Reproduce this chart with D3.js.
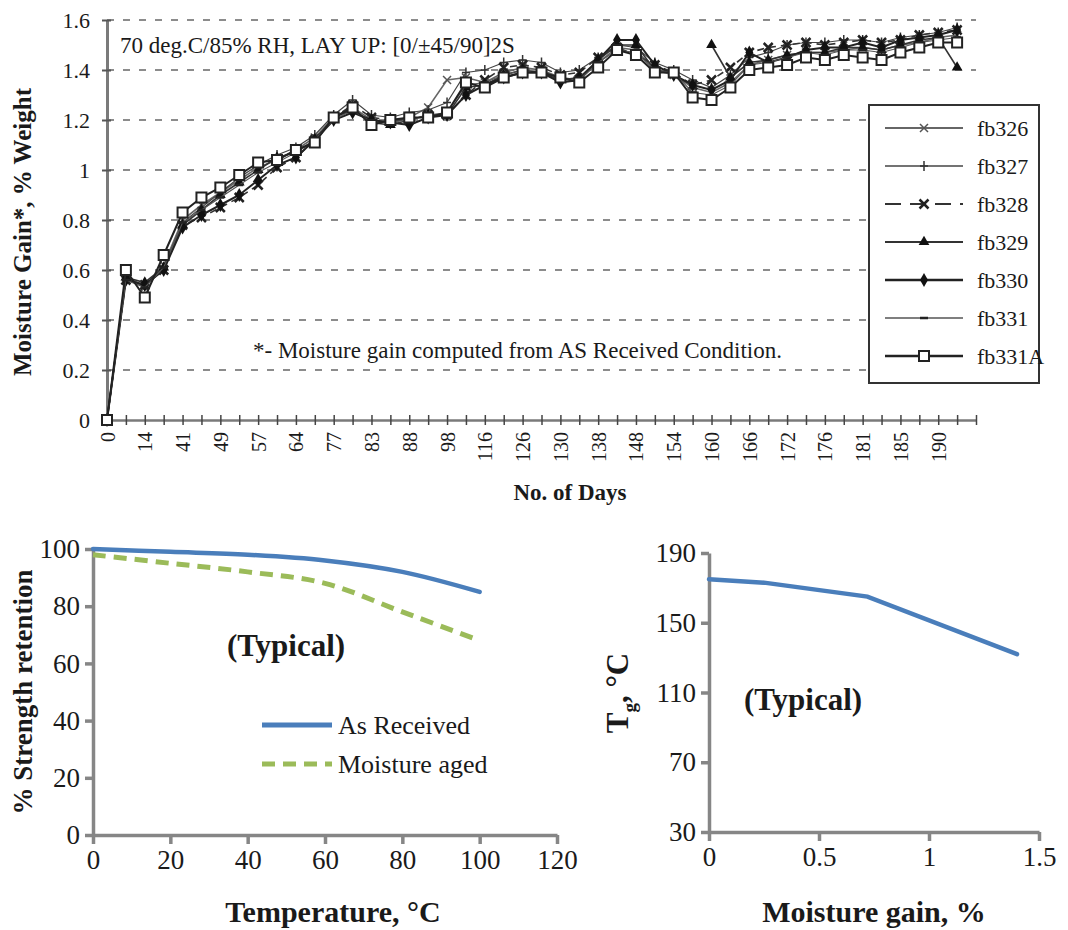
<!DOCTYPE html>
<html>
<head>
<meta charset="utf-8">
<script src="https://cdn.jsdelivr.net/npm/d3@7"></script>
<style>
  body { margin: 0; background: #fff; }
  text { font-family: "Liberation Serif", "Times New Roman", serif; fill: #1a1a1a; }
</style>
</head>
<body>
<svg id="fig" width="1068" height="930"></svg>
<script>
"use strict";

// ---- top chart: moisture gain vs days (every other tick is labelled)
const dayLabels = ["0","14","41","49","57","64","77","83","88","98","116","126","130","138","148","154","160","166","172","176","181","185","190"]

const fb326  = [0,0.57,0.53,0.62,0.80,0.86,0.91,0.96,1.01,1.04,1.08,1.13,1.21,1.25,1.20,1.19,1.21,1.25,1.36,1.37,1.35,1.39,1.41,1.40,1.37,1.36,1.43,1.49,1.48,1.40,1.38,1.33,1.31,1.35,1.42,1.44,1.46,1.47,1.47,1.48,1.49,1.48,1.50,1.51,1.53,1.54]
const fb327  = [0,0.57,0.54,0.61,0.79,0.85,0.91,0.97,1.02,1.06,1.09,1.14,1.22,1.28,1.22,1.21,1.23,1.24,1.27,1.39,1.40,1.43,1.44,1.43,1.39,1.40,1.45,1.50,1.49,1.43,1.40,1.36,1.33,1.38,1.45,1.47,1.50,1.51,1.51,1.52,1.52,1.51,1.53,1.54,1.55,1.57]
const fb328  = [0,0.56,0.54,0.60,0.78,0.81,0.85,0.89,0.94,1.01,1.05,1.12,1.21,1.26,1.21,1.20,1.20,1.22,1.22,1.30,1.36,1.41,1.42,1.41,1.38,1.39,1.45,1.49,1.46,1.42,1.39,1.34,1.36,1.41,1.47,1.49,1.50,1.51,1.50,1.51,1.52,1.51,1.52,1.54,1.55,1.56]
const fb329  = [0,0.57,0.55,0.61,0.78,0.84,0.90,0.95,1.00,1.05,1.07,1.12,1.21,1.24,1.19,1.18,1.20,1.22,1.22,1.33,1.34,1.38,1.40,1.39,1.36,1.37,1.44,1.50,1.50,1.40,1.39,null,1.50,1.37,1.43,1.44,1.46,1.47,1.47,1.49,1.49,1.48,1.50,1.52,1.53,1.41]
const fb330  = [0,0.56,0.54,0.60,0.77,0.82,0.86,0.90,0.96,1.02,1.05,1.12,1.20,1.23,1.20,1.19,1.18,1.21,1.22,1.30,1.34,1.37,1.39,1.39,1.35,1.36,1.44,1.52,1.52,1.42,1.38,1.34,1.32,1.36,1.47,1.43,1.45,1.48,1.49,1.49,1.51,1.49,1.52,1.53,1.54,1.56]
const fb331  = [0,0.56,0.53,0.61,0.79,0.84,0.89,0.94,0.99,1.03,1.07,1.12,1.20,1.24,1.19,1.19,1.20,1.22,1.23,1.34,1.35,1.38,1.40,1.40,1.36,1.36,1.43,1.48,1.47,1.40,1.39,1.31,1.30,1.34,1.42,1.43,1.45,1.47,1.46,1.48,1.48,1.47,1.49,1.51,1.52,1.53]
const fb331A = [0,0.60,0.49,0.66,0.83,0.89,0.93,0.98,1.03,1.04,1.08,1.11,1.21,1.25,1.18,1.20,1.21,1.21,1.23,1.35,1.33,1.37,1.39,1.39,1.37,1.35,1.41,1.48,1.46,1.39,1.39,1.29,1.28,1.33,1.40,1.41,1.42,1.45,1.44,1.46,1.45,1.44,1.47,1.49,1.51,1.51]

// ---- bottom left: strength retention vs temperature
const temps = [0, 20, 40, 60, 80, 100]
const asReceived = [100, 99, 98, 96, 92, 85]
const moistureAged = [98, 95, 92, 88, 78, 68]

// ---- bottom right: Tg vs moisture gain
const gainPct = [0, 0.25, 0.72, 1.4]
const tgValues = [175, 173, 165, 132]

const svg = d3.select("#fig")

function drawMarker(g, type, cx, cy) {
    if (type === "square") {
        g.append("rect").attr("x", cx - 5).attr("y", cy - 5).attr("width", 10).attr("height", 10)
            .attr("fill", "#fff").attr("stroke", "#222").attr("stroke-width", 2)
    } else if (type === "diamond") {
        g.append("path").attr("d", d3.symbol(d3.symbolDiamond, 55)()).attr("transform", `translate(${cx},${cy})`)
            .attr("fill", "#111")
    } else if (type === "triangle") {
        g.append("path").attr("d", d3.symbol(d3.symbolTriangle, 50)()).attr("transform", `translate(${cx},${cy})`)
            .attr("fill", "#111")
    } else if (type === "x" || type === "xbold") {
        var s = type === "x" ? 4 : 4.5
        g.append("path").attr("d", `M${cx - s},${cy - s}L${cx + s},${cy + s}M${cx - s},${cy + s}L${cx + s},${cy - s}`)
            .attr("stroke", type === "x" ? "#555" : "#222").attr("stroke-width", type === "x" ? 1.5 : 2.5)
    } else if (type === "plus") {
        g.append("path").attr("d", `M${cx - 4},${cy}L${cx + 4},${cy}M${cx},${cy - 5}L${cx},${cy + 5}`)
            .attr("stroke", "#333").attr("stroke-width", 1.5)
    } else if (type === "dash") {
        g.append("path").attr("d", `M${cx - 4},${cy}L${cx + 4},${cy}`)
            .attr("stroke", "#222").attr("stroke-width", 2.5)
    }
}

// ================= TOP CHART =================
const xTop = d3.scaleLinear().domain([0, 46]).range([107, 976])
const yTop = d3.scaleLinear().domain([0, 1.6]).range([420, 20])

const gTop = svg.append("g")

// dashed gridlines
gTop.selectAll(".grid")
    .data(d3.range(1, 9).map(k => k * 0.2))
    .enter().append("line")
    .attr("x1", xTop(0)).attr("x2", xTop(46))
    .attr("y1", d => yTop(d)).attr("y2", d => yTop(d))
    .attr("stroke", "#8c8c8c").attr("stroke-width", 2).attr("stroke-dasharray", "7,9")

// y axis
const yAxisTop = d3.axisLeft(yTop).tickValues(d3.range(0, 9).map(k => k * 0.2))
    .tickFormat(d => d3.format("~g")(+d.toFixed(1))).tickSizeInner(5).tickSizeOuter(0).tickPadding(12)
gTop.append("g").attr("transform", `translate(${xTop(0)},0)`).call(yAxisTop)
    .call(g => g.select(".domain").attr("stroke", "#7a7a7a").attr("stroke-width", 3))
    .call(g => g.selectAll(".tick line").attr("x2", 4).attr("x1", -5).attr("stroke", "#555").attr("stroke-width", 2))
    .call(g => g.selectAll("text").style("font-size", "22px").attr("font-family", null))

// x axis (categorical index ticks)
const xAxisTop = d3.axisBottom(xTop).tickValues(d3.range(0, 47))
    .tickFormat(i => (i % 2 === 0 && dayLabels[i / 2] !== undefined) ? dayLabels[i / 2] : "")
    .tickSizeInner(5).tickSizeOuter(0)
gTop.append("g").attr("transform", `translate(0,${yTop(0)})`).call(xAxisTop)
    .call(g => g.select(".domain").attr("stroke", "#7a7a7a").attr("stroke-width", 2.5))
    .call(g => g.selectAll(".tick line").attr("y1", -5).attr("y2", 5).attr("stroke", "#444").attr("stroke-width", 1.5))
    .call(g => g.selectAll("text").style("font-size", "20px").attr("font-family", null)
        .attr("transform", "rotate(-90)").attr("text-anchor", "end")
        .attr("x", -12).attr("y", 0).attr("dy", "0.35em"))

// series
const seriesTop = [
    {name: "fb326", values: fb326, marker: "x", dash: null, color: "#666", width: 1.6},
    {name: "fb327", values: fb327, marker: "plus", dash: null, color: "#444", width: 1.2},
    {name: "fb328", values: fb328, marker: "xbold", dash: "7,5", color: "#333", width: 1.6},
    {name: "fb329", values: fb329, marker: "triangle", dash: null, color: "#333", width: 1.6},
    {name: "fb330", values: fb330, marker: "diamond", dash: null, color: "#222", width: 2},
    {name: "fb331", values: fb331, marker: "dash", dash: null, color: "#555", width: 1.1},
    {name: "fb331A", values: fb331A, marker: "square", dash: null, color: "#222", width: 2}
]

const lineTop = d3.line().defined(d => d != null).x((d, i) => xTop(i)).y(d => yTop(d))

seriesTop.forEach(s => {
    var g = gTop.append("g")
    g.append("path").datum(s.values).attr("d", lineTop)
        .attr("fill", "none").attr("stroke", s.color).attr("stroke-width", s.width)
        .attr("stroke-dasharray", s.dash)
    s.values.forEach((v, i) => {
        if (v != null) drawMarker(g, s.marker, xTop(i), yTop(v))
    })
})

// annotations
gTop.append("text").attr("x", 120).attr("y", 53).style("font-size", "23px")
    .text("70 deg.C/85% RH, LAY UP: [0/±45/90]2S")
gTop.append("text").attr("x", 253).attr("y", 358).style("font-size", "23px")
    .text("*- Moisture gain computed from AS Received Condition.")

// axis titles
gTop.append("text").attr("transform", "translate(31,232) rotate(-90)").attr("text-anchor", "middle")
    .style("font-size", "25px").style("font-weight", "bold").text("Moisture Gain*, % Weight")
gTop.append("text").attr("x", 570).attr("y", 500).attr("text-anchor", "middle")
    .style("font-size", "23px").style("font-weight", "bold").text("No. of Days")

// legend
const legTop = gTop.append("g")
legTop.append("rect").attr("x", 869).attr("y", 105).attr("width", 170).attr("height", 278)
    .attr("fill", "#fff").attr("stroke", "#333").attr("stroke-width", 2)
seriesTop.forEach((s, k) => {
    var ly = 128 + k * 38
    legTop.append("line").attr("x1", 885).attr("x2", 963).attr("y1", ly).attr("y2", ly)
        .attr("stroke", s.color).attr("stroke-width", s.width + 0.4).attr("stroke-dasharray", s.dash ? "16,9" : null)
    drawMarker(legTop, s.marker, 924, ly)
    legTop.append("text").attr("x", 977).attr("y", ly + 8).style("font-size", "22px").text(s.name)
})

// ================= BOTTOM LEFT =================
const axisGray = "#868686"
const xL = d3.scaleLinear().domain([0, 120]).range([93, 557])
const yL = d3.scaleLinear().domain([0, 100]).range([835, 549])
const gL = svg.append("g")

gL.append("g").attr("transform", `translate(0,${yL(0)})`)
    .call(d3.axisBottom(xL).tickValues(d3.range(0, 121, 20)).tickSizeInner(9).tickSizeOuter(0).tickPadding(6))
    .call(g => g.select(".domain").attr("stroke", axisGray).attr("stroke-width", 3.5))
    .call(g => g.selectAll(".tick line").attr("stroke", axisGray).attr("stroke-width", 3.5))
    .call(g => g.selectAll("text").style("font-size", "27px").attr("font-family", null).attr("dy", "0.72em"))
gL.append("g").attr("transform", `translate(${xL(0)},0)`)
    .call(d3.axisLeft(yL).tickValues(d3.range(0, 101, 20)).tickSizeInner(8).tickSizeOuter(0).tickPadding(5))
    .call(g => g.select(".domain").attr("stroke", axisGray).attr("stroke-width", 3.5))
    .call(g => g.selectAll(".tick line").attr("stroke", axisGray).attr("stroke-width", 3.5))
    .call(g => g.selectAll("text").style("font-size", "27px").attr("font-family", null))

const lineL = d3.line().curve(d3.curveCatmullRom).x(d => xL(d[0])).y(d => yL(d[1]))
gL.append("path").datum(d3.zip(temps, moistureAged)).attr("d", lineL)
    .attr("fill", "none").attr("stroke", "#9bbb59").attr("stroke-width", 5).attr("stroke-dasharray", "13,8")
gL.append("path").datum(d3.zip(temps, asReceived)).attr("d", lineL)
    .attr("fill", "none").attr("stroke", "#4a7ebb").attr("stroke-width", 4.5).attr("stroke-linecap", "round")

gL.append("text").attr("x", 286).attr("y", 656).attr("text-anchor", "middle")
    .style("font-size", "31px").style("font-weight", "bold").text("(Typical)")

const legL = [
    {name: "As Received", color: "#4a7ebb", dash: null},
    {name: "Moisture aged", color: "#9bbb59", dash: "13,8"}
]
legL.forEach((s, k) => {
    var ly = 725 + k * 39
    gL.append("line").attr("x1", 262).attr("x2", 332).attr("y1", ly).attr("y2", ly)
        .attr("stroke", s.color).attr("stroke-width", 5).attr("stroke-dasharray", s.dash)
    gL.append("text").attr("x", 338).attr("y", ly + 9).style("font-size", "26px").text(s.name)
})

gL.append("text").attr("x", 333).attr("y", 922).attr("text-anchor", "middle")
    .style("font-size", "30px").style("font-weight", "bold").text("Temperature, °C")
gL.append("text").attr("transform", "translate(32,692) rotate(-90)").attr("text-anchor", "middle")
    .style("font-size", "27px").style("font-weight", "bold").text("% Strength retention")

// ================= BOTTOM RIGHT =================
const xR = d3.scaleLinear().domain([0, 1.5]).range([709, 1039])
const yR = d3.scaleLinear().domain([30, 190]).range([832, 553])
const gR = svg.append("g")

gR.append("g").attr("transform", `translate(0,${yR(30)})`)
    .call(d3.axisBottom(xR).tickValues([0, 0.5, 1, 1.5]).tickFormat(d3.format("~g"))
        .tickSizeInner(9).tickSizeOuter(0).tickPadding(6))
    .call(g => g.select(".domain").attr("stroke", axisGray).attr("stroke-width", 3.5))
    .call(g => g.selectAll(".tick line").attr("stroke", axisGray).attr("stroke-width", 3.5))
    .call(g => g.selectAll("text").style("font-size", "27px").attr("font-family", null).attr("dy", "0.72em"))
gR.append("g").attr("transform", `translate(${xR(0)},0)`)
    .call(d3.axisLeft(yR).tickValues(d3.range(30, 191, 40)).tickSizeInner(8).tickSizeOuter(0).tickPadding(5))
    .call(g => g.select(".domain").attr("stroke", axisGray).attr("stroke-width", 3.5))
    .call(g => g.selectAll(".tick line").attr("stroke", axisGray).attr("stroke-width", 3.5))
    .call(g => g.selectAll("text").style("font-size", "27px").attr("font-family", null))

const lineR = d3.line().x(d => xR(d[0])).y(d => yR(d[1]))
gR.append("path").datum(d3.zip(gainPct, tgValues)).attr("d", lineR)
    .attr("fill", "none").attr("stroke", "#4a7ebb").attr("stroke-width", 4.5).attr("stroke-linecap", "round")

gR.append("text").attr("x", 803).attr("y", 710).attr("text-anchor", "middle")
    .style("font-size", "31px").style("font-weight", "bold").text("(Typical)")

const tgLabel = gR.append("text").attr("transform", "translate(628,693) rotate(-90)").attr("text-anchor", "middle")
    .style("font-size", "31px").style("font-weight", "bold")
tgLabel.append("tspan").text("T")
tgLabel.append("tspan").attr("dy", 8).style("font-size", "19px").text("g")
tgLabel.append("tspan").attr("dy", -8).text(", °C")

gR.append("text").attr("x", 874).attr("y", 922).attr("text-anchor", "middle")
    .style("font-size", "30px").style("font-weight", "bold").text("Moisture gain, %")
</script>
</body>
</html>
